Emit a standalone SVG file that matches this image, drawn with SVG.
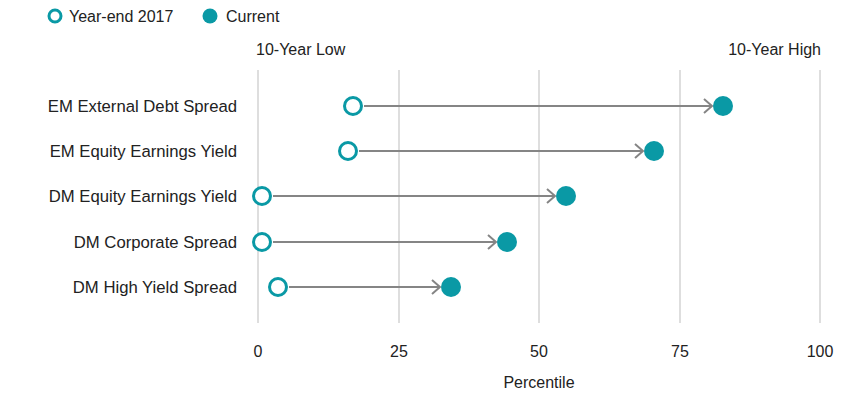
<svg xmlns="http://www.w3.org/2000/svg" width="861" height="401" viewBox="0 0 861 401">
<style>
text{font-family:"Liberation Sans",Arial,sans-serif;font-size:16px;fill:#222}
.lbl{text-anchor:end;font-size:16.7px}
.tick{text-anchor:middle}
.grid{stroke:#d3d3d3;stroke-width:1.5}
.open{fill:#fff;stroke:#0a99a5;stroke-width:3}
.cur{fill:#0a99a5}
.conn{stroke:#858585;stroke-width:2;fill:none;marker-end:url(#chev)}
</style>
<defs>
<marker id="chev" markerUnits="userSpaceOnUse" markerWidth="14" markerHeight="18" refX="9" refY="8" orient="auto" viewBox="0 0 14 16">
<path d="M1,1 L9,8 L1,15" fill="none" stroke="#858585" stroke-width="2"/>
</marker>
</defs>
<rect width="861" height="401" fill="#fff"/>
<g id="legend">
<circle class="open" cx="55" cy="16" r="6"/>
<text x="69" y="22">Year-end 2017</text>
<circle class="cur" cx="210" cy="16" r="7.5"/>
<text x="226" y="22">Current</text>
</g>
<g id="grid">
<line class="grid" x1="258" y1="70" x2="258" y2="323"/>
<line class="grid" x1="399" y1="70" x2="399" y2="323"/>
<line class="grid" x1="539" y1="70" x2="539" y2="323"/>
<line class="grid" x1="680" y1="70" x2="680" y2="323"/>
<line class="grid" x1="820" y1="70" x2="820" y2="323"/>
</g>
<g id="axis">
<text x="256" y="55">10-Year Low</text>
<text x="821" y="55" text-anchor="end">10-Year High</text>
<text class="tick" x="258" y="357">0</text>
<text class="tick" x="399" y="357">25</text>
<text class="tick" x="539" y="357">50</text>
<text class="tick" x="680" y="357">75</text>
<text class="tick" x="820" y="357">100</text>
<text class="tick" x="539" y="388">Percentile</text>
</g>
<g id="labels">
<text class="lbl" x="237" y="112">EM External Debt Spread</text>
<text class="lbl" x="237" y="157">EM Equity Earnings Yield</text>
<text class="lbl" x="237" y="202">DM Equity Earnings Yield</text>
<text class="lbl" x="237" y="248">DM Corporate Spread</text>
<text class="lbl" x="237" y="293">DM High Yield Spread</text>
</g>
<g id="connectors">
<line class="conn" x1="364" y1="106" x2="712" y2="106"/>
<line class="conn" x1="359" y1="151" x2="643" y2="151"/>
<line class="conn" x1="273" y1="196" x2="555" y2="196"/>
<line class="conn" x1="273" y1="242" x2="496" y2="242"/>
<line class="conn" x1="289" y1="287" x2="440" y2="287"/>
</g>
<g id="row-em-external-debt">
<circle class="open" cx="353" cy="106" r="8.5"/>
<circle class="cur" cx="723" cy="106" r="10"/>
</g>
<g id="row-em-equity">
<circle class="open" cx="348" cy="151" r="8.5"/>
<circle class="cur" cx="654" cy="151" r="10"/>
</g>
<g id="row-dm-equity">
<circle class="open" cx="262" cy="196" r="8.5"/>
<circle class="cur" cx="566" cy="196" r="10"/>
</g>
<g id="row-dm-corporate">
<circle class="open" cx="262" cy="242" r="8.5"/>
<circle class="cur" cx="507" cy="242" r="10"/>
</g>
<g id="row-dm-high-yield">
<circle class="open" cx="278" cy="287" r="8.5"/>
<circle class="cur" cx="451" cy="287" r="10"/>
</g>
</svg>
